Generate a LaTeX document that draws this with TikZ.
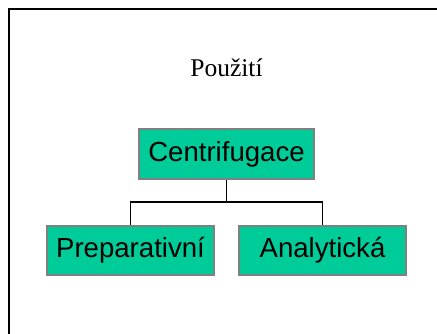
\documentclass[tikz,border=0pt]{standalone}
\usepackage{fontspec}
\setmainfont{Liberation Serif}
\setsansfont{Liberation Sans}
\begin{document}
\begin{tikzpicture}[x=1pt,y=1pt,
  box/.style={draw={rgb,255:red,128;green,128;blue,128}, line width=1.6pt,
    fill={rgb,255:red,0;green,204;blue,153}, inner sep=0pt,
    font=\sffamily\fontsize{27.6}{32}\selectfont},
  link/.style={line width=1.5pt, black}]
  \useasboundingbox (0,0) rectangle (437,-334);
  % outer frame: only left and top edges show
  \draw[line width=2pt] (9.3,-334) -- (9.3,-9.3) -- (437,-9.3);
  % heading
  \node[font=\rmfamily\fontsize{25.5}{30}\selectfont] (title) at (226.5,-68) {Použití};
  % boxes
  \node[box, minimum width=175pt, minimum height=50pt] (c) at (226.5,-154) {Centrifugace};
  \node[box, minimum width=167pt, minimum height=49pt] (p) at (130.5,-250.5) {Preparativní};
  \node[box, minimum width=167pt, minimum height=49pt] (a) at (322.5,-250.5) {Analytická};
  % tree connector
  \coordinate (j) at (226.5,-202);
  \draw[link] (c.south) -- (j);
  \draw[link] (j) -| (p.north);
  \draw[link] (j) -| (a.north);
\end{tikzpicture}
\end{document}
